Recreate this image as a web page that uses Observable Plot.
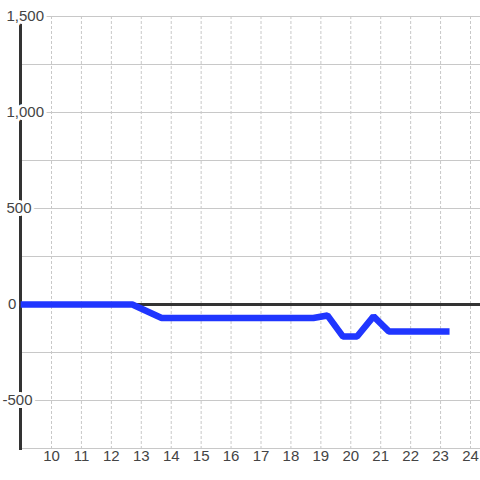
<!DOCTYPE html>
<html><head><meta charset="utf-8">
<script src="https://cdn.jsdelivr.net/npm/d3@7"></script>
<script src="https://cdn.jsdelivr.net/npm/@observablehq/plot@0.6"></script>
<style>body{margin:0;background:#fff}</style>
</head><body><div id="chart"></div>
<script>
const hours = [8.97, 12.7, 13.68, 18.75, 19.22, 19.74, 20.21, 20.76, 21.27, 23.3];
const values = [0, 0, -70, -70, -57, -167, -167, -62, -140, -140];
const xTicks = [10, 11, 12, 13, 14, 15, 16, 17, 18, 19, 20, 21, 22, 23, 24];
const yLabelTicks = [1500, 1000, 500, 0, -500];
const yLabels = ["1,500", "1,000", "500", "0", "-500"];
const yGridTicks = [-750, -500, -250, 250, 500, 750, 1000, 1250, 1500];

const data = hours.map((h, i) => ({h, v: values[i]}));
const lab = yLabelTicks.map((t, i) => ({t, s: yLabels[i]}));

const halo = {frameAnchor: "left", textAnchor: "start", fill: "#444", stroke: "white", strokeWidth: 6, y: "t", text: "s"};

const chart = Plot.plot({
  width: 480, height: 480,
  marginLeft: 20, marginRight: 0, marginTop: 16, marginBottom: 32,
  x: {domain: [8.964, 24.334], axis: null},
  y: {domain: [-750, 1500], axis: null},
  style: {fontFamily: "'Liberation Sans', Arial, sans-serif", fontSize: "15px", background: "white"},
  marks: [
    Plot.ruleX(xTicks, {x: d => d, stroke: "#c8c8c8", strokeDasharray: "3,2"}),
    Plot.ruleY(yGridTicks, {y: d => d, stroke: "#c8c8c8"}),
    Plot.ruleY([0], {stroke: "#333", strokeWidth: 3}),
    Plot.frame({anchor: "left", stroke: "#333", strokeWidth: 3}),
    Plot.text(lab.filter(d => d.t > 0), {...halo, dx: -14}),
    Plot.text(lab.filter(d => d.t === 0), {...halo, dx: -12.5}),
    Plot.text(lab.filter(d => d.t < 0), {...halo, dx: -18}),
    Plot.text(xTicks, {x: d => d, text: d => String(d), frameAnchor: "bottom", dy: 12.5, fill: "#444"}),
    Plot.line(data, {x: "h", y: "v", stroke: "#2036ff", strokeWidth: 6.5, strokeLinejoin: "miter", strokeLinecap: "butt"})
  ]
});
document.getElementById("chart").append(chart);
</script>
</body></html>
